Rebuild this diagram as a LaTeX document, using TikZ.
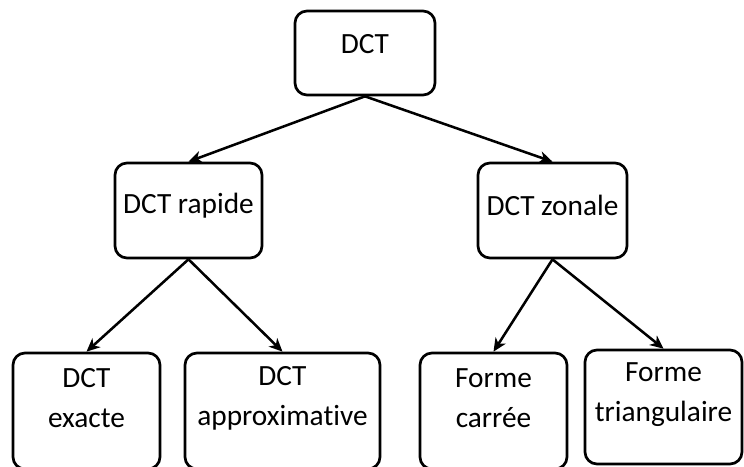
\documentclass[tikz,border=0pt]{standalone}
\usepackage{fontspec}
\setmainfont{Carlito}[Ligatures=NoCommon]
\usetikzlibrary{arrows.meta}
\begin{document}
\begin{tikzpicture}[x=0.75pt,y=-0.75pt,
  box/.style={draw=black,line width=2pt,rounded corners=9pt,inner sep=0pt},
  lbl/.style={font=\fontsize{22}{30}\selectfont,align=center,inner sep=0pt},
  link/.style={line width=1.9pt,-{Stealth[length=10pt,width=9pt,inset=3pt]}}]
\clip (0,0) rectangle (744,467);
% boxes
\node[box,minimum width=105pt,minimum height=63pt] (dct) at (365,53) {};
\node[box,minimum width=110.25pt,minimum height=71.25pt] (rap) at (188.5,210.5) {};
\node[box,minimum width=111.75pt,minimum height=71.25pt] (zon) at (552.5,210.5) {};
\node[box,minimum width=110.25pt,minimum height=87pt] (exa) at (86.5,411) {};
\node[box,minimum width=146.25pt,minimum height=87pt] (app) at (282.5,411) {};
\node[box,minimum width=110.25pt,minimum height=87pt] (car) at (493.5,411) {};
\node[box,minimum width=117.75pt,minimum height=85.5pt] (tri) at (663.5,407) {};
% labels
\node[lbl] (dct-t) at ([yshift=6.5pt]dct.center) {DCT};
\node[lbl] (rap-t) at ([yshift=3.5pt]rap.center) {DCT rapide};
\node[lbl] (zon-t) at ([yshift=3.5pt]zon.center) {DCT zonale};
\node[lbl] (exa-t) at ([yshift=9.5pt]exa.center) {DCT\\exacte};
\node[lbl] (app-t) at ([yshift=9.5pt]app.center) {DCT\\approximative};
\node[lbl] (car-t) at ([yshift=9.5pt]car.center) {Forme\\carrée};
\node[lbl] (tri-t) at ([yshift=9.5pt]tri.center) {Forme\\triangulaire};
% connectors
\draw[link] (dct.south) -- (rap.north);
\draw[link] (dct.south) -- (zon.north);
\draw[link] (rap.south) -- (exa.north);
\draw[link] (rap.south) -- (app.north);
\draw[link] (zon.south) -- (car.north);
\draw[link] (zon.south) -- (tri.north);
\end{tikzpicture}
\end{document}
